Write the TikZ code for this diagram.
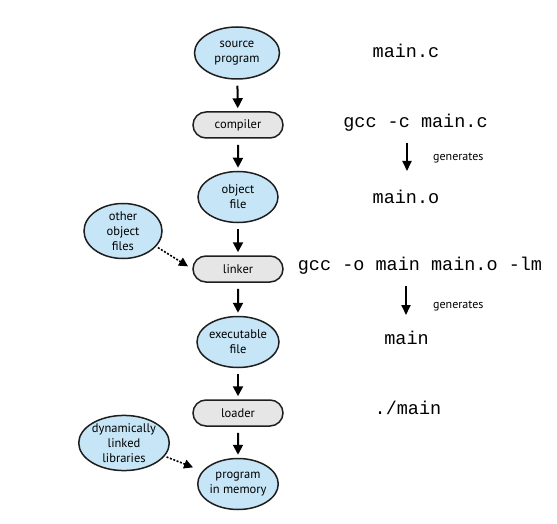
\documentclass[tikz,border=0pt]{standalone}
\usepackage{fontspec}
\setmainfont{PT Sans}
\newfontfamily\codefont{Liberation Mono}
\usetikzlibrary{shapes.geometric,shapes.misc,arrows.meta}
\definecolor{blob}{RGB}{198,229,246}
\definecolor{boxgray}{RGB}{230,230,230}
\definecolor{edge}{RGB}{30,30,30}
\tikzset{
  fileell/.style={ellipse, draw=edge, line width=1.5pt, fill=blob, inner sep=0pt,
    minimum width=80pt, minimum height=51pt, align=center,
    font=\fontsize{12.5}{15}\selectfont},
  toolbox/.style={rounded rectangle, draw=edge, line width=1.5pt, fill=boxgray, inner sep=0pt,
    minimum width=90pt, minimum height=26pt, font=\fontsize{12.5}{15}\selectfont},
  flow/.style={line width=2pt, -{Triangle[length=10pt,width=10pt]}, shorten <=6pt, shorten >=3pt},
  dotflow/.style={line width=1.6pt, dash pattern=on 2pt off 1.6pt, -{Triangle[length=9pt,width=9pt]}},
  code/.style={inner sep=0pt, font=\codefont\fontsize{18.5}{20}\selectfont},
  gen/.style={inner sep=0pt, anchor=west, font=\fontsize{12}{14}\selectfont},
  genarrow/.style={line width=1.8pt, -{Triangle[length=10pt,width=9pt]}}
}
\begin{document}
\begin{tikzpicture}[x=1pt,y=-1pt]
\useasboundingbox (0,0) rectangle (557,524);
% left column
\node[fileell, minimum width=85pt, minimum height=52pt] (src) at (237,53) {source\\program};
\node[toolbox] (comp) at (238,125) {compiler};
\node[fileell] (obj) at (238,197) {object\\file};
\node[fileell, minimum width=78pt, minimum height=53pt] (other) at (123,231) {other\\object\\files};
\node[toolbox] (link) at (238,269) {linker};
\node[fileell] (exe) at (238,342) {executable\\file};
\node[toolbox] (load) at (238,413) {loader};
\node[fileell, minimum width=78pt, minimum height=53pt] (dyn) at (124,443) {dynamically\\linked\\libraries};
\node[fileell] (mem) at (238,484) {program\\in memory};
\draw[flow] (src) -- (comp);
\draw[flow] (comp) -- (obj);
\draw[flow] (obj) -- (link);
\draw[flow] (link) -- (exe);
\draw[flow] (exe) -- (load);
\draw[flow] (load) -- (mem);
\draw[dotflow, shorten <=2pt, shorten >=5pt] (other.-25) -- (link.west);
\draw[dotflow, shorten <=2pt, shorten >=10pt] (dyn.-18) -- (mem.160);
% right column
\node[code] (c1) at (406,51) {main.c};
\node[code] (c2) at (415.5,123) {gcc -c main.c};
\node[code] (c3) at (406,197) {main.o};
\node[code] (c4) at (420,266) {gcc -o main main.o -lm};
\node[code] (c5) at (406.5,338) {main};
\node[code] (c6) at (408,408) {./main};
\coordinate (g1a) at (407,143);
\coordinate (g1b) at (407,171);
\coordinate (g2a) at (406,286);
\coordinate (g2b) at (406,315);
\draw[genarrow] (g1a) -- (g1b);
\draw[genarrow] (g2a) -- (g2b);
\node[gen] (gen1) at (433,158) {generates};
\node[gen] (gen2) at (433,306) {generates};
\end{tikzpicture}
\end{document}
